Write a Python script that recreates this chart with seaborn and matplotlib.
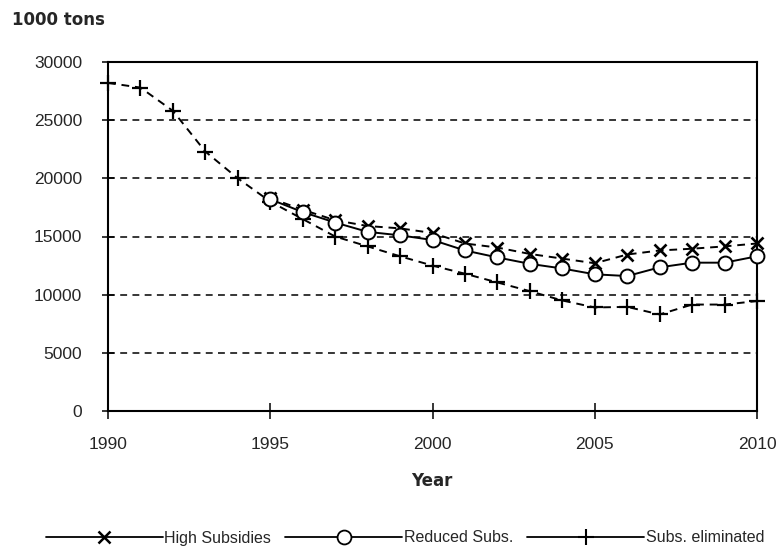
import matplotlib
matplotlib.use("Agg")
import matplotlib.pyplot as plt
from matplotlib.lines import Line2D
import seaborn as sns
import pandas as pd
import numpy as np

years = list(range(1990, 2011))
nan = np.nan
high_subsidies = [nan, nan, nan, nan, nan, 18300, 17300, 16400, 15900, 15700,
                  15300, 14400, 14050, 13500, 13100, 12700, 13450, 13800, 13950, 14150, 14400]
reduced_subs = [nan, nan, nan, nan, nan, 18200, 17100, 16200, 15400, 15100,
                14700, 13800, 13200, 12650, 12250, 11750, 11600, 12350, 12750, 12750, 13300]
subs_eliminated = [28200, 27800, 25800, 22300, 20000, 18000, 16500, 15000, 14150, 13300,
                   12500, 11800, 11050, 10300, 9500, 8900, 8950, 8300, 9150, 9150, 9450]
series_names = ["High Subsidies", "Reduced Subs.", "Subs. eliminated"]
x_ticks = [1990, 1995, 2000, 2005, 2010]
y_ticks = [0, 5000, 10000, 15000, 20000, 25000, 30000]

sns.set_style("white")
plt.rcParams['font.family'] = ['Liberation Sans', 'DejaVu Sans']

fig = plt.figure(figsize=(7.78, 5.57), dpi=100)
ax = fig.add_axes([108/778, 1-411/557, (757-108)/778, (411-62)/557])

df = pd.DataFrame({"Year": years, "High": high_subsidies, "Reduced": reduced_subs,
                   "Elim": subs_eliminated})

# grid lines
for yv in y_ticks[1:-1]:
    ax.axhline(yv, color='black', lw=1.1, dashes=(4.5, 3.5), zorder=1)

sns.lineplot(data=df, x="Year", y="Elim", ax=ax, color='black', lw=1.4,
             linestyle=(0, (4, 3)), marker='+', markersize=11, markeredgewidth=1.6,
             markeredgecolor='black', zorder=3, clip_on=False)
sns.lineplot(data=df, x="Year", y="High", ax=ax, color='black', lw=1.4,
             linestyle=(0, (4, 3)), marker='x', markersize=9, markeredgewidth=1.9,
             markeredgecolor='black', zorder=4, clip_on=False)
sns.lineplot(data=df, x="Year", y="Reduced", ax=ax, color='black', lw=1.4,
             linestyle='-', marker='o', markersize=10, markerfacecolor='white',
             markeredgecolor='black', markeredgewidth=1.4, zorder=5, clip_on=False)

ax.set_xlim(1990, 2010)
ax.set_ylim(0, 30000)
ax.set_xticks(x_ticks)
ax.set_yticks(y_ticks)
ax.set_xticklabels([str(v) for v in x_ticks])
ax.set_yticklabels([str(v) for v in y_ticks])
ax.tick_params(axis='y', direction='inout', length=9, width=1.3, pad=14, labelsize=12.5, left=True)
ax.tick_params(axis='x', direction='inout', length=11, width=1.3, pad=13, labelsize=12.5, bottom=True)
ax.set_xlabel("")
ax.set_ylabel("")
for s in ax.spines.values():
    s.set_visible(True)
    s.set_color('black')
    s.set_linewidth(1.5)

fig.text(12/778, 1-20/557, "1000 tons", fontsize=12, fontweight='bold',
         family=['DejaVu Sans'], ha='left', va='center')
fig.text(432/778, 1-481/557, "Year", fontsize=12, fontweight='bold',
         family=['DejaVu Sans'], ha='center', va='center')

handles = [
    Line2D([], [], color='black', lw=1.3, marker='x', markersize=8, markeredgewidth=1.8),
    Line2D([], [], color='black', lw=1.3, marker='o', markersize=10, markerfacecolor='white',
           markeredgewidth=1.3),
    Line2D([], [], color='black', lw=1.3, marker='+', markersize=11, markeredgewidth=1.5),
]
fig.legend(handles, series_names, loc='center', bbox_to_anchor=(405/778, 1-538/557),
           ncol=3, frameon=False, fontsize=11.5, handlelength=7.3, handletextpad=0.1,
           columnspacing=0.9, borderaxespad=0)

fig.savefig("out.png", dpi=100)
